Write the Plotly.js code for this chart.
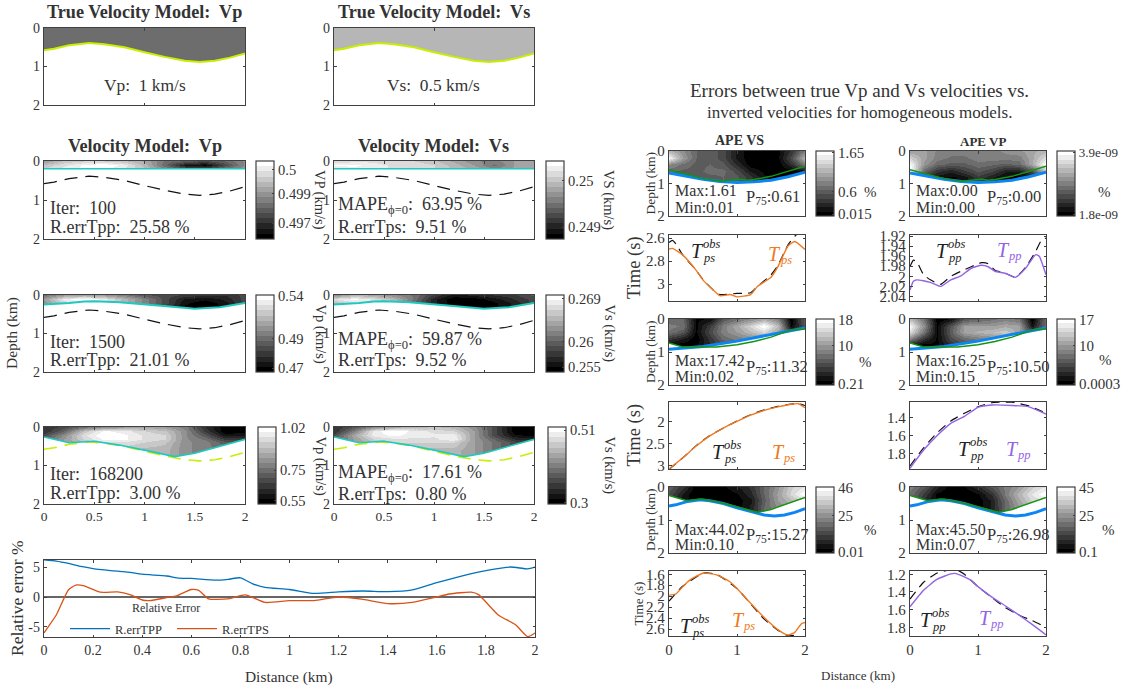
<!DOCTYPE html>
<html><head><meta charset="utf-8">
<script src="https://cdn.plot.ly/plotly-3.0.1.min.js"></script>
<style>html,body{margin:0;padding:0;background:#fff}</style></head>
<body><div id="chart" style="width:1122px;height:688px"></div>
<script>
// ---------- data ----------
const gridX = [0,0.2,0.4,0.6,0.8,1,1.2,1.4,1.6,1.8,2];
const curveX = [0,0.1,0.25,0.45,0.6,0.8,1,1.2,1.4,1.55,1.7,1.85,2];
const trueInterface = [0.58,0.54,0.45,0.39,0.42,0.5,0.63,0.75,0.85,0.88,0.85,0.77,0.66];

const flatDepth = [0,2];
const levelVpTrue = [[0.44,0.44],[0.44,0.44]];
const levelVsTrue = [[0.7,0.7],[0.7,0.7]];

const depthB = [0,0.1,0.2];
const levelVp100 = [
 [.6,.75,.8,.8,.75,.65,.45,.38,.3,.4,.55],
 [.75,.85,.95,1,.9,.7,.42,.12,.06,.3,.55],
 [.8,.9,.95,.95,.85,.75,.55,.4,.35,.5,.6]];
const levelVs100 = [
 [.8,.85,.85,.8,.8,.75,.65,.55,.5,.6,.65],
 [.95,.95,.9,.85,.85,.8,.7,.6,.45,.6,.65],
 [.85,.9,.9,.85,.8,.8,.72,.65,.55,.62,.68]];
const iface100X = [0,2];
const iface100 = [0.2,0.2];

const depthC = [0,0.1,0.2,0.3,0.4];
const levelVp1500 = [
 [.45,.6,.65,.6,.5,.35,.3,.25,.2,.2,.3],
 [.6,.9,1,.9,.7,.5,.3,.12,.08,.15,.3],
 [.55,.8,.95,.85,.7,.5,.3,.08,.02,.1,.3],
 [.4,.6,.8,.7,.6,.45,.25,.05,0,.1,.3],
 [.4,.6,.8,.7,.6,.45,.25,.05,0,.1,.3]];
const levelVs1500 = [
 [.55,.7,.65,.55,.45,.25,.1,.15,.2,.25,.35],
 [.85,.95,.85,.7,.45,.15,.02,.03,.1,.2,.3],
 [.7,.85,.85,.7,.4,.15,.02,0,.05,.15,.3],
 [.5,.6,.7,.6,.35,.15,.05,0,.05,.15,.3],
 [.5,.6,.7,.6,.35,.15,.05,0,.05,.15,.3]];
const iface1500X = [0,0.1,0.25,0.4,0.5,0.75,1,1.25,1.5,1.75,2];
const iface1500 = [0.25,0.24,0.21,0.17,0.16,0.19,0.24,0.3,0.36,0.32,0.21];

const depthD = [0,0.1,0.2,0.3,0.4,0.5,0.6,0.8];
const levelVp168 = [
 [.2,.3,.45,.55,.6,.65,.6,.5,.2,.02,.05],
 [.2,.4,.75,.95,.9,.8,.75,.55,.25,.02,.05],
 [.3,.55,.85,1,.95,.85,.8,.55,.35,.1,.1],
 [.4,.6,.8,.95,.95,.85,.8,.55,.45,.25,.25],
 [.45,.6,.7,.85,.85,.8,.75,.55,.5,.35,.35],
 [.5,.6,.7,.8,.8,.75,.72,.55,.5,.4,.4],
 [.5,.6,.7,.75,.75,.7,.7,.55,.5,.4,.4],
 [.5,.6,.7,.75,.75,.7,.7,.55,.5,.4,.4]];
const levelVs168 = [
 [.2,.35,.55,.65,.7,.75,.7,.55,.3,.03,.05],
 [.2,.5,.9,1,.9,.85,.8,.6,.3,.03,.03],
 [.3,.65,.9,.95,.9,.88,.9,.6,.3,.08,.05],
 [.4,.6,.8,.85,.85,.85,.92,.6,.4,.2,.15],
 [.45,.6,.7,.8,.8,.8,.8,.6,.45,.3,.3],
 [.45,.6,.7,.78,.78,.75,.75,.6,.45,.3,.3],
 [.45,.6,.7,.75,.75,.7,.7,.6,.45,.3,.3],
 [.45,.6,.7,.75,.75,.7,.7,.6,.45,.3,.3]];
const iface168X = [0,0.25,0.5,0.75,1,1.3,1.5,1.75,2];
const iface168 = [0.26,0.41,0.37,0.47,0.6,0.77,0.68,0.51,0.32];

const depthR = [0,0.2,0.4,0.6,0.8,1];
const apeVs1 = [
 [.7,.55,.4,.38,.3,.12,0,0,.05,.22,.5],
 [.95,.6,.4,.38,.3,.12,0,0,.05,.3,.7],
 [.55,.45,.38,.4,.35,.18,.02,.02,.02,.2,.5],
 [.42,.38,.38,.42,.42,.3,.12,.05,.02,.02,.1],
 [.38,.38,.38,.38,.4,.35,.22,.08,.02,.02,.02],
 [.38,.38,.38,.38,.4,.35,.22,.08,.02,.02,.02]];
const apeVp1 = [
 [.6,.62,.52,.5,.5,.5,.5,.55,.58,.65,.7],
 [.8,.62,.5,.45,.45,.5,.5,.5,.5,.65,.85],
 [.95,.58,.42,.38,.38,.45,.42,.38,.42,.65,1],
 [1,.42,.22,.15,.25,.35,.28,.15,.15,.32,.8],
 [.6,.2,.1,.05,.1,.25,.15,.05,.02,.05,.2],
 [.3,.15,.05,.02,.1,.2,.1,.02,.02,.05,.1]];
const apeVs2 = [
 [.4,.4,.05,.08,.35,.45,.55,.65,.5,.02,.38],
 [.5,.45,.05,.25,.5,.65,.82,1,.72,.05,.35],
 [.45,.35,.05,.3,.5,.6,.72,.82,.62,.32,.32],
 [.22,.12,.02,.22,.42,.48,.52,.58,.5,.3,.3],
 [.05,.02,.05,.2,.3,.4,.45,.5,.45,.3,.3],
 [.02,.02,.05,.2,.3,.4,.45,.5,.45,.3,.3]];
const apeVp2 = [
 [.72,.45,.02,.08,.35,.4,.45,.5,.45,.02,.45],
 [.95,.55,.05,.35,.6,.6,.6,.65,.62,.1,.45],
 [.85,.45,.05,.38,.62,.68,.72,.78,.62,.32,.4],
 [.5,.2,.05,.3,.42,.48,.52,.58,.5,.3,.3],
 [.1,.03,.05,.2,.3,.35,.4,.4,.4,.3,.3],
 [.1,.03,.05,.2,.3,.35,.4,.4,.4,.3,.3]];
const apeVs3 = [
 [.38,.22,.02,.02,.05,.12,.22,.4,.58,.78,.88],
 [.32,.12,0,0,.02,.06,.18,.4,.62,.82,1],
 [.3,.1,0,0,.02,.03,.12,.38,.6,.72,.82],
 [.3,.1,.05,.02,.05,.03,.15,.4,.55,.62,.72],
 [.3,.1,.05,.02,.05,.03,.15,.4,.55,.62,.72],
 [.3,.1,.05,.02,.05,.03,.15,.4,.55,.62,.72]];
const apeVp3 = [
 [.5,.35,.15,.02,.05,.18,.35,.48,.6,.78,.88],
 [.45,.25,.05,0,0,.06,.22,.48,.7,.87,1],
 [.4,.2,.05,.02,0,.03,.15,.42,.65,.82,.87],
 [.4,.25,.1,.1,.05,.03,.15,.4,.6,.72,.77],
 [.4,.25,.1,.1,.05,.03,.15,.4,.6,.72,.77],
 [.4,.25,.1,.1,.05,.03,.15,.4,.6,.72,.77]];

const blue1X = [0,0.25,0.5,0.75,1,1.25,1.5,1.75,2];
const blue1 = [0.68,0.78,0.87,0.94,0.97,0.95,0.9,0.79,0.65];
const green1X = [0,0.25,0.5,0.75,0.95,1.05,1.15,1.25,1.5,1.75,2];
const green1 = [0.58,0.72,0.85,0.93,0.9,0.87,0.9,0.88,0.78,0.63,0.47];
const blue2X = [0,0.5,1,1.5,2];
const blue2 = [0.92,0.83,0.67,0.47,0.27];
const green2X = [0,0.1,0.2,0.4,0.7,1,1.25,1.5,1.8,2];
const green2 = [0.73,0.8,0.85,0.85,0.85,0.78,0.68,0.55,0.33,0.3];
const mask2X = [0,0.1,0.2,0.4,0.6,1,1.5,1.9,2];
const mask2 = [0.73,0.8,0.85,0.85,0.79,0.67,0.47,0.3,0.27];

const timeX1 = [0,0.05,0.2,0.4,0.5,0.65,0.75,0.9,1,1.2,1.3,1.5,1.6,1.75,1.85,2];
const tpsCalc1 = [2.696,2.69,2.746,2.88,2.965,3.05,3.1,3.09,3.11,3.09,3.02,2.94,2.85,2.67,2.63,2.7];
const tpsObsX1 = [0,0.05,0.1,0.2,0.4,0.5,0.65,0.75,1,1.2,1.3,1.5,1.6,1.75,1.85,2];
const tpsObs1 = [2.64,2.62,2.65,2.745,2.88,2.96,3.05,3.09,3.08,3.075,3.02,2.92,2.84,2.66,2.585,2.5];
const timeXp1 = [0,0.05,0.1,0.3,0.45,0.6,0.75,0.9,1.05,1.15,1.25,1.4,1.55,1.7,1.85,1.9,2];
const tppCalc1 = [2.027,2.01,2.007,2.012,2.02,2.007,1.999,1.984,1.978,1.981,1.99,1.994,2.002,1.984,1.957,1.96,1.997];
const obsXp1 = [0,0.05,0.1,0.2,0.3,0.45,0.6,0.75,0.9,1.05,1.15,1.25,1.4,1.55,1.7,1.85,1.93,2];
const tppObs1 = [1.981,1.968,1.971,1.997,2.007,2.016,2,1.99,1.981,1.973,1.975,1.988,1.994,2.002,1.982,1.95,1.929,1.924];

const timeX2 = [0,0.2,0.4,0.6,0.8,1,1.2,1.4,1.6,1.8,1.9,2];
const tpsCalc2 = [3.07,2.82,2.55,2.32,2.14,1.99,1.85,1.74,1.66,1.6,1.59,1.68];
const tpsObs2 = [3.08,2.82,2.54,2.31,2.14,1.98,1.84,1.73,1.65,1.6,1.585,1.63];
const timeXp2 = [0,0.2,0.4,0.6,0.8,1,1.2,1.5,1.75,2];
const tppCalc2 = [1.96,1.76,1.6,1.466,1.39,1.29,1.265,1.27,1.285,1.365];
const tppObs2 = [1.935,1.735,1.57,1.44,1.355,1.285,1.24,1.235,1.275,1.355];

const timeX3 = [0,0.1,0.2,0.3,0.5,0.7,0.9,1,1.2,1.4,1.6,1.75,1.85,1.95,2];
const tpsCalc3 = [1.98,1.96,1.83,1.71,1.58,1.61,1.74,1.86,2.13,2.39,2.61,2.71,2.66,2.5,2.48];
const obsX3 = [0,0.1,0.2,0.5,0.7,1,1.2,1.4,1.6,1.75,1.85,1.9];
const tpsObs3 = [2.09,1.95,1.82,1.58,1.6,1.86,2.14,2.42,2.62,2.72,2.71,2.66];
const timeXp3 = [0,0.2,0.4,0.6,0.66,0.8,0.9,1,1.2,1.4,1.6,1.8,2];
const tppCalc3 = [1.567,1.38,1.256,1.196,1.19,1.23,1.27,1.34,1.456,1.556,1.66,1.77,1.885];
const obsXp3 = [0,0.2,0.4,0.6,0.7,0.8,1,1.2,1.4,1.6,1.8,2];
const tppObs3 = [1.48,1.29,1.185,1.15,1.155,1.2,1.34,1.46,1.575,1.66,1.725,1.8];

const errX1 = [0,0.05,0.1,0.15,0.2,0.3,0.35,0.4,0.5,0.55,0.6,0.7,0.75,0.8,0.85,0.9,1,1.1,1.2,1.3,1.4,1.5,1.6,1.7,1.8,1.9,1.97,2];
const errTPP = [6.2,6,5.6,5.1,4.75,4.3,4.1,3.8,3.5,3.15,3.1,2.8,2.95,3.2,2.2,1.6,1.25,0.6,0.85,1,0.9,1.2,2.4,3.5,4.4,5,4.7,5];
const errX2 = [0,0.02,0.05,0.1,0.13,0.16,0.23,0.3,0.35,0.4,0.43,0.5,0.54,0.6,0.63,0.67,0.75,0.82,0.9,1,1.1,1.2,1.3,1.4,1.5,1.6,1.65,1.74,1.77,1.85,1.92,1.97,2];
const errTPS = [-6,-4.8,-3,1.2,2,1.9,0.8,0.85,0.4,-0.5,-0.6,-0.1,0.2,1.25,1.1,-0.3,-0.3,0.35,-0.9,-0.6,-0.6,0,-0.4,-1.1,-0.9,0,0.5,0.8,0.4,-3,-4.6,-6.6,-6];

// ---------- styling ----------
const W=1122, H=688;
const SERIF='"Liberation Serif","DejaVu Serif",serif';
const INK='#333333', FRAME='#404040';
const YEL='#c8ee00', CY='#1fc9bf', BLUE='#0b86f2', GREEN='#149414', ORANGE='#f07a22', PURPLE='#9463e6';
const greyScale=(()=>{const n=15,o=[];for(let i=0;i<n;i++){const g=Math.round(255*i/(n-1));const c=`rgb(${g},${g},${g})`;o.push([i/n,c],[(i+1)/n,c]);}return o;})();

const traces=[], annotations=[], layout={
  width:W,height:H,margin:{l:0,r:0,t:0,b:0,autoexpand:false},paper_bgcolor:'#fff',plot_bgcolor:'#fff',
  font:{family:SERIF,color:INK},hovermode:false,
  showlegend:true,
  legend:{orientation:'h',x:65/W,xanchor:'left',y:1-629/H,yanchor:'middle',bgcolor:'rgba(0,0,0,0)',
    font:{size:12.5,family:SERIF,color:INK},itemwidth:40,tracegroupgap:0,entrywidth:52,entrywidthmode:'pixels'},
  annotations
};
let axisN=0;
function axes(l,r,t,b,xr,yr,opt={}){
  axisN++;
  const s=axisN===1?'':axisN;
  layout['xaxis'+s]=Object.assign({domain:[l/W,r/W],range:xr,anchor:'y'+s,showgrid:false,zeroline:false,showline:true,
    mirror:'ticks',linecolor:FRAME,linewidth:1.2,ticks:'inside',ticklen:2.5,tickcolor:FRAME,
    tickfont:{size:opt.xfont||13.5,family:SERIF,color:INK},tickvals:opt.xticks||[0,0.5,1,1.5,2],
    ticktext:opt.xlabels,showticklabels:!!opt.xlabels},opt.xa||{});
  layout['yaxis'+s]=Object.assign({domain:[1-b/H,1-t/H],range:yr,anchor:'x'+s,showgrid:false,zeroline:false,showline:true,
    mirror:'ticks',linecolor:FRAME,linewidth:1.2,ticks:'inside',ticklen:2.5,tickcolor:FRAME,
    tickfont:{size:opt.yfont||14,family:SERIF,color:INK},tickvals:opt.yticks||[0,1,2],ticktext:opt.ylabels},opt.ya||{});
  return {xaxis:'x'+s,yaxis:'y'+s};
}
function heat(ax,x,y,z,bar){
  const t=Object.assign({type:'heatmap',x,y,z,zmin:0,zmax:1,zsmooth:'best',colorscale:greyScale,showscale:!!bar,hoverinfo:'skip'},ax);
  if(bar) t.colorbar={x:bar.l/W,xanchor:'left',y:1-bar.b/H,yanchor:'bottom',len:(bar.b-bar.t)/H,lenmode:'fraction',
    thickness:bar.w,thicknessmode:'pixels',xpad:0,ypad:0,outlinecolor:FRAME,outlinewidth:1.2,borderwidth:0,
    tickmode:'array',tickvals:bar.vals,ticktext:bar.text,ticks:'inside',ticklen:2.5,tickcolor:FRAME,
    tickfont:{size:bar.fs||14.5,family:SERIF,color:INK}};
  traces.push(t);
}
function mask(ax,x,y){
  traces.push(Object.assign({type:'scatter',mode:'lines',x:x.concat([2,0]),y:y.concat([2,2]),fill:'toself',fillcolor:'#fff',
    line:{width:0,color:'#fff'},showlegend:false,hoverinfo:'skip'},ax));
}
function line(ax,x,y,color,w,dash,smooth){
  const ln={color,width:w,dash:dash||'solid'};
  if(smooth){ln.shape='spline';ln.smoothing=0.5;}
  traces.push(Object.assign({type:'scatter',mode:'lines',x,y,line:ln,showlegend:false,hoverinfo:'skip'},ax));
}
function text(s,x,y,size,o={}){
  annotations.push({text:s,xref:'paper',yref:'paper',x:x/W,y:1-y/H,showarrow:false,xanchor:o.a||'center',yanchor:'middle',
    textangle:o.rot||0,font:{size,family:SERIF,color:o.color||INK},borderpad:0});
}
function tObs(x,y,sub){
  text('<i>T</i>',x,y,20,{color:'#222'});
  text('<i>obs</i>',x+5,y-7,12.5,{a:'left',color:'#222'});
  text('<i>'+sub+'</i>',x+5,y+7,12.5,{a:'left',color:'#222'});
}
function tCalc(x,y,sub,color){
  text('<i>T</i>',x,y,20,{color});
  text('<i>'+sub+'</i>',x+4,y+6,12.5,{a:'left',color});
}

// ---------- left block ----------
const LC=[[44,245,256],[334,534,546]];
const dashTrue='13px,8px';

[[LC[0],levelVpTrue,'True Velocity Model:  Vp','Vp:  1 km/s'],[LC[1],levelVsTrue,'True Velocity Model:  Vs','Vs:  0.5 km/s']].forEach(([c,z,ti,tx])=>{
  const ax=axes(c[0],c[1],28,105,[0,2],[2,0],{xticks:[1]});
  heat(ax,[0,2],flatDepth,z);
  mask(ax,curveX,trueInterface);
  line(ax,curveX,trueInterface,YEL,2);
  text('<b>'+ti+'</b>',(c[0]+c[1])/2,12,18.2);
  text(tx,(c[0]+c[1])/2,85,17.4);
});
const rowsL=[
 {t:161,b:239,tit:1,ifx:iface100X,ify:iface100,dep:depthB,vp:levelVp100,vs:levelVs100,
  vpBar:{vals:[.89,.58,.2],text:['0.5','0.499','0.497']},vsBar:{vals:[.75,.15],text:['0.25','0.249']},
  lab:['VP (km/s)','VS (km/s)'],t1:['Iter:  100','R.errTpp:  25.58 %'],t2:['MAPE<sub>ϕ=0</sub>:  63.95 %','R.errTps:  9.51 %'],ty:[208,227],ty2:[206,227],dashc:'#111'},
 {t:295,b:372,ifx:iface1500X,ify:iface1500,dep:depthC,vp:levelVp1500,vs:levelVs1500,
  vpBar:{vals:[.99,.43,.05],text:['0.54','0.49','0.47']},vsBar:{vals:[.95,.39,.06],text:['0.269','0.26','0.255']},
  lab:['Vp (km/s)','Vs (km/s)'],t1:['Iter:  1500','R.errTpp:  21.01 %'],t2:['MAPE<sub>ϕ=0</sub>:  59.87 %','R.errTps:  9.52 %'],ty:[342,360],ty2:[340,360],dashc:'#111'},
 {t:427,b:504,ifx:iface168X,ify:iface168,dep:depthD,vp:levelVp168,vs:levelVs168,bot:1,bar2:258,
  vpBar:{vals:[.99,.44,.04],text:['1.02','0.75','0.55']},vsBar:{vals:[.96,.02],text:['0.51','0.3']},
  lab:['Vp (km/s)','Vs (km/s)'],t1:['Iter:  168200','R.errTpp:  3.00 %'],t2:['MAPE<sub>ϕ=0</sub>:  17.61 %','R.errTps:  0.80 %'],ty:[474,493],ty2:[473,494],dashc:YEL}
];
rowsL.forEach(r=>{
  [0,1].forEach(k=>{
    const c=LC[k];
    const ax=axes(c[0],c[1],r.t,r.b,[0,2],[2,0],r.bot?{xlabels:['0','0.5','1','1.5','2']}:{});
    const bar=Object.assign({l:(r.bar2?c[2]+2:c[2]),t:r.t,b:r.b,w:18},k===0?r.vpBar:r.vsBar);
    heat(ax,gridX,r.dep,k===0?r.vp:r.vs,bar);
    mask(ax,r.ifx,r.ify);
    line(ax,curveX,trueInterface,r.dashc,r.bot?1.6:1.2,dashTrue);
    line(ax,r.ifx,r.ify,CY,r.tit?1.4:(r.bot?1.6:2));
    const tt=k===0?r.t1:r.t2, tyy=k===0?r.ty:r.ty2;
    text(tt[0],c[0]+(k===0?5:3),tyy[0],18,{a:'left'});
    text(tt[1],c[0]+(k===0?5:3),tyy[1],18,{a:'left'});
    text(r.lab[k],k===0?320:609,(r.t+r.b)/2,14.5,{rot:90});
  });
});
text('<b>Velocity Model:  Vp</b>',145,146,18.2);
text('<b>Velocity Model:  Vs</b>',434,146,18.2);
text('Depth (km)',12,333,15.5,{rot:-90});

{
  const ax=axes(44,535,560,637,[0,2],[-6.67,6.17],{xticks:[0,.2,.4,.6,.8,1,1.2,1.4,1.6,1.8,2],
    xlabels:['0','0.2','0.4','0.6','0.8','1','1.2','1.4','1.6','1.8','2'],yticks:[-5,0,5],ylabels:['-5','0','5'],xfont:14,yfont:14});
  line(ax,[0,2],[0,0],'#333',1.6);
  traces.push(Object.assign({type:'scatter',mode:'lines',name:'R.errTPP',x:errX1,y:errTPP,line:{color:'#0072BD',width:1.3,shape:'spline',smoothing:0.6},hoverinfo:'skip'},ax));
  traces.push(Object.assign({type:'scatter',mode:'lines',name:'R.errTPS',x:errX2,y:errTPS,line:{color:'#D95319',width:1.3,shape:'spline',smoothing:0.6},hoverinfo:'skip'},ax));
  text('Relative Error',166,608,12);
  text('Relative error %',17,598,17.5,{rot:-90});
  text('Distance (km)',289,677,15.4);
}

// ---------- right block ----------
text('Errors between true Vp and Vs velocities vs.',859,90,19);
text('inverted velocities for homogeneous models.',859,112,17);
text('<b>APE VS</b>',739,140,14);
text('<b>APE VP</b>',983,141,13);
const RC=[[669,805,816],[910,1046,1057]];
const rowsR=[
 {t:151,b:216,tt:235,tb:301,grids:[apeVs1,apeVp1],blue:[blue1X,blue1],green:[green1X,green1],maskc:[blue1X,blue1],
  bars:[{vals:[.98,.37,.03],text:['1.65','0.6','0.015']},{vals:[.98,.02],text:['3.9e-09','1.8e-09'],fs:13}],
  stats:[['Max:1.61','Min:0.01','P<sub>75</sub>:0.61'],['Max:0.00','Min:0.00','P<sub>75</sub>:0.00']],sy:[191,207,197],pct:[[870,192],[1104,192]],
  tl:[{range:[3.146,2.574],ticks:[2.6,2.8,3],labels:['2.6','2.8','3'],calc:[timeX1,tpsCalc1],obs:[tpsObsX1,tpsObs1]},
      {range:[2.049,1.918],ticks:[1.92,1.94,1.96,1.98,2,2.02,2.04],labels:['1.92','1.94','1.96','1.98','2','2.02','2.04'],calc:[timeXp1,tppCalc1],obs:[obsXp1,tppObs1]}],
  tpos:[[697,251,775,254],[942,251,1003,250]]},
 {t:319,b:385,tt:402,tb:469,grids:[apeVs2,apeVp2],blue:[blue2X,blue2],green:[green2X,green2],maskc:[mask2X,mask2],
  bars:[{vals:[.99,.6,.02],text:['18','10','0.21']},{vals:[.99,.6,.02],text:['17','10','0.0003']}],
  stats:[['Max:17.42','Min:0.02','P<sub>75</sub>:11.32'],['Max:16.25','Min:0.15','P<sub>75</sub>:10.50']],sy:[360,376,367],pct:[[865,362],[1105,360]],
  tl:[{range:[3.07,1.55],ticks:[2,2.5,3],labels:['2','2.5','3'],calc:[timeX2,tpsCalc2],obs:[timeX2,tpsObs2]},
      {range:[1.968,1.232],ticks:[1.4,1.6,1.8],labels:['1.4','1.6','1.8'],calc:[timeXp2,tppCalc2],obs:[timeXp2,tppObs2]}],
  tpos:[[718,452,778,452],[964,449,1012,449]]},
 {t:487,b:553,tt:571,tb:636,bot:1,grids:[apeVs3,apeVp3],blue:[curveX,trueInterface],green:[iface168X,iface168],maskc:[iface168X,iface168],
  bars:[{vals:[.99,.57,.02],text:['46','25','0.01']},{vals:[.99,.57,.02],text:['45','25','0.1']}],
  stats:[['Max:44.02','Min:0.10','P<sub>75</sub>:15.27'],['Max:45.50','Min:0.07','P<sub>75</sub>:26.98']],sy:[529,544,535],pct:[[870,530],[1108,530]],
  tl:[{range:[2.727,1.54],ticks:[1.6,1.8,2,2.2,2.4,2.6],labels:['1.6','1.8','2','2.2','2.4','2.6'],calc:[timeX3,tpsCalc3],obs:[obsX3,tpsObs3]},
      {range:[1.898,1.163],ticks:[1.2,1.4,1.6,1.8],labels:['1.2','1.4','1.6','1.8'],calc:[timeXp3,tppCalc3],obs:[obsXp3,tppObs3]}],
  tpos:[[686,626,738,620],[926,620,985,618]]}
];
rowsR.forEach((r,ri)=>{
  [0,1].forEach(k=>{
    const c=RC[k];
    const ax=axes(c[0],c[1],r.t,r.b,[0,2],[2,0],{xticks:[0,1,2],yfont:15});
    heat(ax,gridX,depthR,r.grids[k],Object.assign({l:c[2],t:r.t,b:r.b,w:18,fs:15},r.bars[k]));
    mask(ax,r.maskc[0],r.maskc[1]);
    line(ax,r.blue[0],r.blue[1],BLUE,3);
    line(ax,r.green[0],r.green[1],GREEN,1.5);
    text(r.stats[k][0],c[0]+5,r.sy[0],16,{a:'left'});
    text(r.stats[k][1],c[0]+5,r.sy[1],16,{a:'left'});
    text(r.stats[k][2],c[0]+76,r.sy[2],16.5,{a:'left'});
    text('%',r.pct[k][0],r.pct[k][1],15);

    const tl=r.tl[k], col=k===0?ORANGE:PURPLE;
    const ax2=axes(c[0],c[1],r.tt,r.tb,[0,2],tl.range,{xticks:[0,1,2],xlabels:r.bot?['0','1','2']:undefined,xfont:15,
       yticks:tl.ticks,ylabels:tl.labels,yfont:15});
    line(ax2,tl.obs[0],tl.obs[1],'#111',1.2,'9px,6px',true);
    line(ax2,tl.calc[0],tl.calc[1],col,1.4,null,true);
    const p=r.tpos[k];
    tObs(p[0],p[1],k===0?'ps':'pp');
    tCalc(p[2],p[3],k===0?'ps':'pp',col);
  });
  text('Depth (km)',650,(r.t+r.b)/2,13.5,{rot:-90});
  if(ri<2) text('Time (s)',634,(r.tt+r.tb)/2,18.5,{rot:-90});
  else text('Time (s)',638,(r.tt+r.tb)/2,13,{rot:-90});
});
text('Distance (km)',858,675,13);

Plotly.newPlot('chart',traces,layout,{displayModeBar:false,staticPlot:true});
</script></body></html>
